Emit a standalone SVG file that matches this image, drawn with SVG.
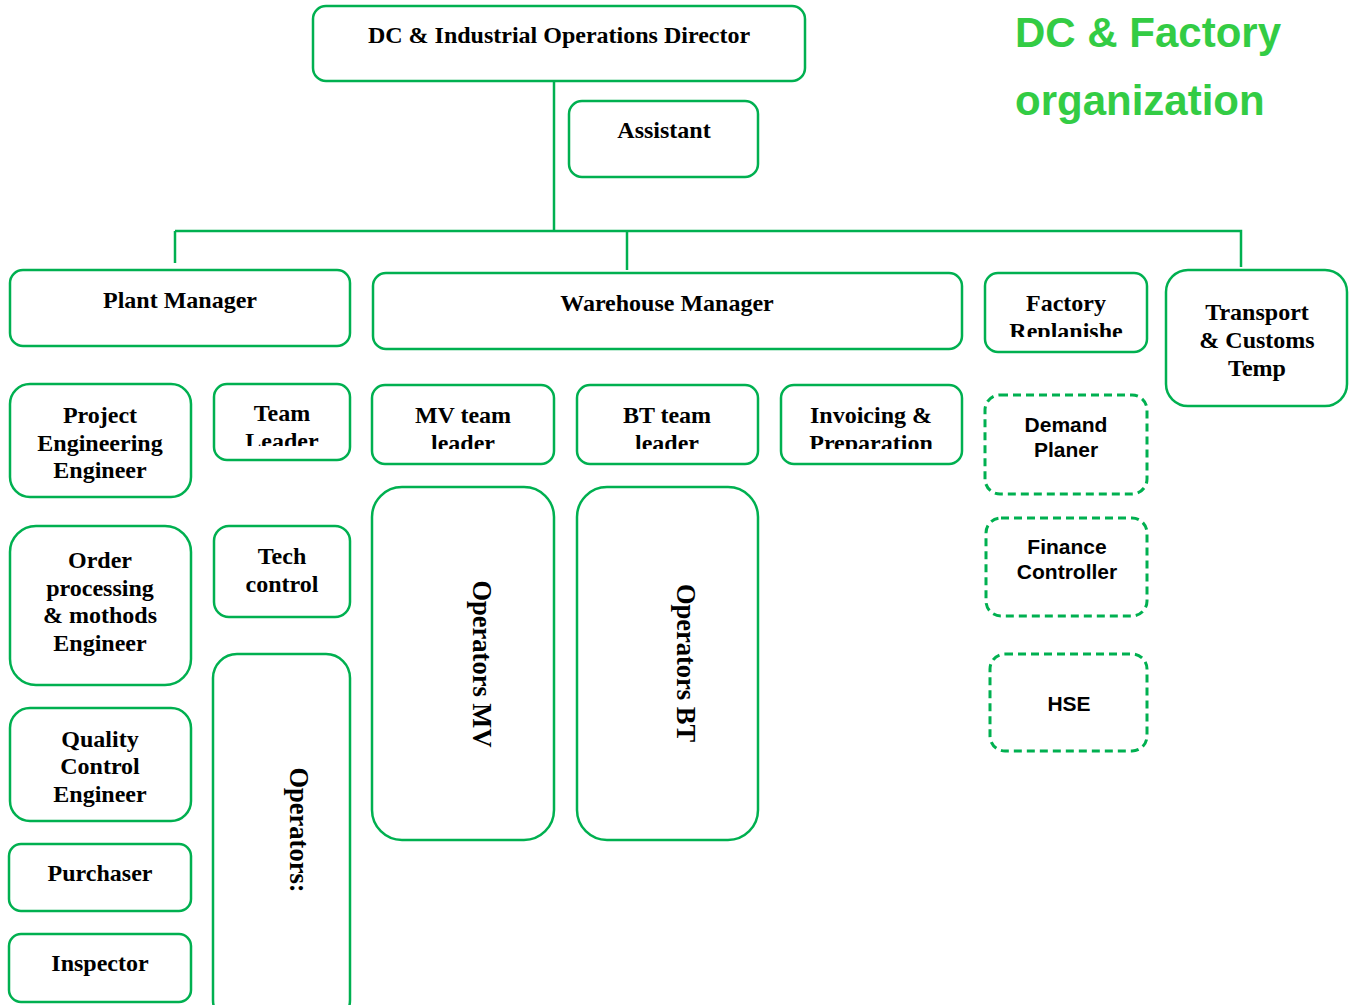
<svg xmlns="http://www.w3.org/2000/svg" width="1354" height="1005" viewBox="0 0 1354 1005">
  <style>
    .box { fill: #ffffff; stroke: #00b050; stroke-width: 2.5; }
    .dash { fill: #ffffff; stroke: #00b050; stroke-width: 3; stroke-dasharray: 8 5; }
    .lbl { font-family: "Liberation Serif", "Times New Roman", serif; font-weight: bold; font-size: 24px; fill: #000000; text-anchor: middle; }
    .vlbl { font-family: "Liberation Serif", "Times New Roman", serif; font-weight: bold; font-size: 26.5px; fill: #000000; text-anchor: middle; }
    .sans { font-family: "Liberation Sans", Arial, sans-serif; font-weight: bold; font-size: 21px; fill: #000000; text-anchor: middle; }
    .title { font-family: "Liberation Sans", Arial, sans-serif; font-weight: bold; font-size: 42px; fill: #33cc44; }
    .link { fill: none; stroke: #00b050; stroke-width: 2.5; }
  </style>
  <defs>
    <clipPath id="clipTeam"><rect x="214" y="384" width="136" height="62"/></clipPath>
    <clipPath id="clipMV"><rect x="372" y="385" width="182" height="64"/></clipPath>
    <clipPath id="clipBT"><rect x="577" y="385" width="181" height="64"/></clipPath>
    <clipPath id="clipInv"><rect x="781" y="385" width="181" height="64"/></clipPath>
    <clipPath id="clipFact"><rect x="985" y="273" width="162" height="64"/></clipPath>
  </defs>

  <rect width="1354" height="1005" fill="#ffffff"/>

  <!-- heading -->
  <g id="title">
    <text class="title" x="1015" y="47">DC &amp; Factory</text>
    <text class="title" x="1015" y="115">organization</text>
  </g>

  <!-- reporting lines -->
  <g id="connectors">
    <path class="link" d="M554 81 V231"/>
    <path class="link" d="M175 231 H1241 V267"/>
    <path class="link" d="M175 231 V263"/>
    <path class="link" d="M627 231 V270"/>
  </g>

  <g id="director">
    <rect class="box" x="313" y="6" width="492" height="75" rx="13"/>
    <text class="lbl" x="559" y="43">DC &amp; Industrial Operations Director</text>
  </g>
  <g id="assistant">
    <rect class="box" x="569" y="101" width="189" height="76" rx="13"/>
    <text class="lbl" x="664" y="138">Assistant</text>
  </g>

  <g id="plant-manager">
    <rect class="box" x="10" y="270" width="340" height="76" rx="13"/>
    <text class="lbl" x="180" y="308">Plant Manager</text>
  </g>
  <g id="warehouse-manager">
    <rect class="box" x="373" y="273" width="589" height="76" rx="13"/>
    <text class="lbl" x="667" y="311">Warehouse Manager</text>
  </g>
  <g id="factory-replanishe">
    <rect class="box" x="985" y="273" width="162" height="79" rx="13"/>
    <g clip-path="url(#clipFact)">
      <text class="lbl" x="1066" y="311">Factory</text>
      <text class="lbl" x="1066" y="339">Replanishe</text>
    </g>
  </g>
  <g id="transport-customs">
    <rect class="box" x="1166" y="270" width="181" height="136" rx="22"/>
    <text class="lbl" x="1257" y="320">Transport</text>
    <text class="lbl" x="1257" y="348">&amp; Customs</text>
    <text class="lbl" x="1257" y="376">Temp</text>
  </g>

  <!-- plant column -->
  <g id="project-engineering">
    <rect class="box" x="10" y="384" width="181" height="113" rx="20"/>
    <text class="lbl" x="100" y="423">Project</text>
    <text class="lbl" x="100" y="451">Engineering</text>
    <text class="lbl" x="100" y="478">Engineer</text>
  </g>
  <g id="team-leader">
    <rect class="box" x="214" y="384" width="136" height="76" rx="13"/>
    <g clip-path="url(#clipTeam)">
      <text class="lbl" x="282" y="421">Team</text>
      <text class="lbl" x="282" y="449">Leader</text>
    </g>
  </g>
  <g id="order-processing">
    <rect class="box" x="10" y="526" width="181" height="159" rx="26"/>
    <text class="lbl" x="100" y="568">Order</text>
    <text class="lbl" x="100" y="596">processing</text>
    <text class="lbl" x="100" y="623">&amp; mothods</text>
    <text class="lbl" x="100" y="651">Engineer</text>
  </g>
  <g id="tech-control">
    <rect class="box" x="214" y="526" width="136" height="91" rx="15"/>
    <text class="lbl" x="282" y="564">Tech</text>
    <text class="lbl" x="282" y="592">control</text>
  </g>
  <g id="quality-control">
    <rect class="box" x="10" y="708" width="181" height="113" rx="20"/>
    <text class="lbl" x="100" y="747">Quality</text>
    <text class="lbl" x="100" y="774">Control</text>
    <text class="lbl" x="100" y="802">Engineer</text>
  </g>
  <g id="purchaser">
    <rect class="box" x="9" y="844" width="182" height="67" rx="12"/>
    <text class="lbl" x="100" y="881">Purchaser</text>
  </g>
  <g id="inspector">
    <rect class="box" x="9" y="934" width="182" height="68" rx="12"/>
    <text class="lbl" x="100" y="971">Inspector</text>
  </g>
  <g id="operators">
    <rect class="box" x="213" y="654" width="137" height="370" rx="24"/>
    <text class="vlbl" transform="translate(290 830) rotate(90)">Operators:</text>
  </g>

  <!-- warehouse column -->
  <g id="mv-team-leader">
    <rect class="box" x="372" y="385" width="182" height="79" rx="13"/>
    <g clip-path="url(#clipMV)">
      <text class="lbl" x="463" y="423">MV team</text>
      <text class="lbl" x="463" y="451">leader</text>
    </g>
  </g>
  <g id="bt-team-leader">
    <rect class="box" x="577" y="385" width="181" height="79" rx="13"/>
    <g clip-path="url(#clipBT)">
      <text class="lbl" x="667" y="423">BT team</text>
      <text class="lbl" x="667" y="451">leader</text>
    </g>
  </g>
  <g id="invoicing-preparation">
    <rect class="box" x="781" y="385" width="181" height="79" rx="13"/>
    <g clip-path="url(#clipInv)">
      <text class="lbl" x="871" y="423">Invoicing &amp;</text>
      <text class="lbl" x="871" y="451">Preparation</text>
    </g>
  </g>
  <g id="operators-mv">
    <rect class="box" x="372" y="487" width="182" height="353" rx="30"/>
    <text class="vlbl" transform="translate(473 664) rotate(90)">Operators MV</text>
  </g>
  <g id="operators-bt">
    <rect class="box" x="577" y="487" width="181" height="353" rx="30"/>
    <text class="vlbl" transform="translate(677 663) rotate(90)">Operators BT</text>
  </g>

  <!-- support functions -->
  <g id="demand-planer">
    <rect class="dash" x="985" y="395" width="162" height="99" rx="15"/>
    <text class="sans" x="1066" y="432">Demand</text>
    <text class="sans" x="1066" y="457">Planer</text>
  </g>
  <g id="finance-controller">
    <rect class="dash" x="986" y="518" width="161" height="98" rx="15"/>
    <text class="sans" x="1067" y="554">Finance</text>
    <text class="sans" x="1067" y="579">Controller</text>
  </g>
  <g id="hse">
    <rect class="dash" x="990" y="654" width="157" height="97" rx="15"/>
    <text class="sans" x="1069" y="711">HSE</text>
  </g>
</svg>
